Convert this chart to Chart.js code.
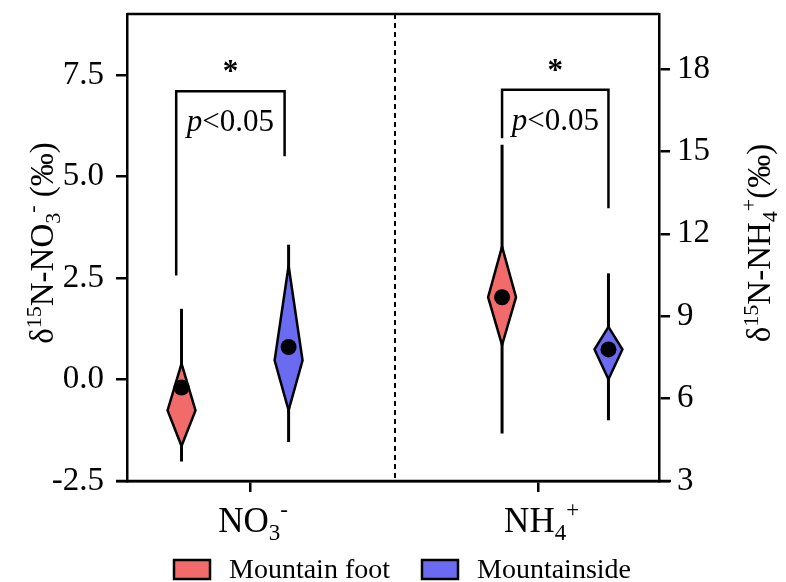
<!DOCTYPE html>
<html>
<head>
<meta charset="utf-8">
<script src="https://cdn.jsdelivr.net/npm/chart.js@4.4.1/dist/chart.umd.min.js"></script>
<style>
  html, body { margin: 0; padding: 0; background: #fff; }
  #wrap { width: 786px; height: 582px; }
</style>
</head>
<body>
<div id="wrap"><canvas id="chart" width="786" height="582"></canvas></div>
<script>
// values -- NO3- uses the left axis, NH4+ the right one
const categories = ['NO3-', 'NH4+'];
const groups = ['Mountain foot', 'Mountainside'];
const groupColors = ['#f26b6b', '#6b6bf2'];

// positions on a 0..8 x scale
const categoryX = [1.85, 6.19];
const groupX = [[0.82, 2.43], [5.64, 7.24]];
const dividerX = 4.03;

const whiskerLow  = [[-2.02, -1.54], [4.73, 5.21]];
const whiskerHigh = [[1.74, 3.32], [15.24, 10.56]];
const diamondTop  = [[0.39, 2.80], [11.53, 8.61]];
const diamondMid  = [[-0.76, 0.47], [9.69, 7.79]];
const diamondLow  = [[-1.64, -0.76], [7.95, 6.70]];
const means       = [[-0.20, 0.80], [9.69, 7.79]];

const bracketX    = [[0.74, 2.37], [5.64, 7.24]];
const bracketTop  = [7.10, 17.24];
const bracketEnds = [[2.56, 5.50], [15.48, 12.93]];

const leftTicks  = [-2.5, 0, 2.5, 5, 7.5];
const rightTicks = [3, 6, 9, 12, 15, 18];

const axisIds = ['y', 'y2'];
const DIAMOND_HALF = 0.21; // x units
const FONT = '"Liberation Serif", "Times New Roman", serif';

const datasets = [];
categories.forEach((cat, c) => {
    groups.forEach((g, k) => {
        const x = groupX[c][k];
        // whisker
        datasets.push({
            yAxisID: axisIds[c], order: 3,
            data: [{x: x, y: whiskerLow[c][k]}, {x: x, y: whiskerHigh[c][k]}],
            borderColor: '#000', borderWidth: 3, pointRadius: 0, fill: false
        });
        // diamond
        datasets.push({
            yAxisID: axisIds[c], order: 2,
            data: [
                {x: x, y: diamondTop[c][k]},
                {x: x + DIAMOND_HALF, y: diamondMid[c][k]},
                {x: x, y: diamondLow[c][k]},
                {x: x - DIAMOND_HALF, y: diamondMid[c][k]},
                {x: x, y: diamondTop[c][k]}
            ],
            borderColor: '#000', borderWidth: 2.5, backgroundColor: groupColors[k],
            fill: 'shape', pointRadius: 0, borderJoinStyle: 'miter'
        });
        // mean
        datasets.push({
            yAxisID: axisIds[c], order: 1,
            data: [{x: x, y: means[c][k]}],
            showLine: false, pointRadius: 8, pointBackgroundColor: '#000',
            pointBorderWidth: 0
        });
    });
    // significance bracket
    datasets.push({
        yAxisID: axisIds[c], order: 1,
        data: [
            {x: bracketX[c][0], y: bracketEnds[c][0]},
            {x: bracketX[c][0], y: bracketTop[c]},
            {x: bracketX[c][1], y: bracketTop[c]},
            {x: bracketX[c][1], y: bracketEnds[c][1]}
        ],
        borderColor: '#000', borderWidth: 2.5, pointRadius: 0, fill: false
    });
});

function fontOf(p) {
    return (p.italic ? 'italic ' : '') + (p.bold ? 'bold ' : '') + p.size + 'px ' + FONT;
}

// draws a run of text pieces (sub/superscripts) on one baseline
function drawRich(ctx, parts, x, y, align) {
    let total = 0;
    parts.forEach(p => { ctx.font = fontOf(p); p.w = ctx.measureText(p.t).width; total += p.w; });
    let cx = align === 'center' ? x - total / 2 : x;
    ctx.textAlign = 'left';
    ctx.textBaseline = 'alphabetic';
    parts.forEach(p => {
        ctx.font = fontOf(p);
        ctx.fillText(p.t, cx, y + (p.dy || 0));
        cx += p.w;
    });
}

const decorations = {
    id: 'decorations',
    beforeDatasetsDraw(chart) {
        const {ctx, chartArea: a, scales} = chart;
        const px = scales.x.getPixelForValue(dividerX);
        ctx.save();
        ctx.strokeStyle = '#000';
        ctx.lineWidth = 2;
        ctx.setLineDash([5, 4]);
        ctx.beginPath();
        ctx.moveTo(px, a.top);
        ctx.lineTo(px, a.bottom);
        ctx.stroke();
        ctx.restore();
    },
    afterDraw(chart) {
        const {ctx, chartArea: a, scales} = chart;
        ctx.save();
        ctx.strokeStyle = '#000';
        ctx.lineWidth = 2.5;
        ctx.beginPath();
        ctx.moveTo(a.left, a.top);
        ctx.lineTo(a.right, a.top);
        ctx.moveTo(a.left - 11, a.bottom);
        ctx.lineTo(a.right + 12, a.bottom);
        ctx.stroke();

        ctx.fillStyle = '#000';
        // star and p value over each bracket
        categories.forEach((cat, c) => {
            const topPx = scales[axisIds[c]].getPixelForValue(bracketTop[c]);
            const mid = scales.x.getPixelForValue((bracketX[c][0] + bracketX[c][1]) / 2);
            drawRich(ctx, [{t: '*', size: 31, bold: true}], mid, topPx - 10, 'center');
            drawRich(ctx, [{t: 'p', size: 31, italic: true}, {t: '<0.05', size: 31}], mid, topPx + 40, 'center');
        });

        // category labels
        const xLabels = [
            [{t: 'NO', size: 35}, {t: '3', size: 23, dy: 8}, {t: '-', size: 23, dy: -15}],
            [{t: 'NH', size: 35}, {t: '4', size: 23, dy: 8}, {t: '+', size: 23, dy: -15}]
        ];
        xLabels.forEach((parts, c) => {
            drawRich(ctx, parts, scales.x.getPixelForValue(categoryX[c]) + 3, a.bottom + 51, 'center');
        });

        // axis titles
        const leftTitle = [
            {t: 'δ', size: 33}, {t: '15', size: 22, dy: -12}, {t: 'N-NO', size: 33},
            {t: '3', size: 22, dy: 7}, {t: '-', size: 22, dy: -14}, {t: ' (‰)', size: 33}
        ];
        const rightTitle = [
            {t: 'δ', size: 33}, {t: '15', size: 22, dy: -12}, {t: 'N-NH', size: 33},
            {t: '4', size: 22, dy: 7}, {t: '+', size: 22, dy: -14}, {t: '(‰)', size: 33}
        ];
        ctx.save();
        ctx.translate(53, 243);
        ctx.rotate(-Math.PI / 2);
        drawRich(ctx, leftTitle, 0, 0, 'center');
        ctx.restore();
        ctx.save();
        ctx.translate(770, 243);
        ctx.rotate(-Math.PI / 2);
        drawRich(ctx, rightTitle, 0, 0, 'center');
        ctx.restore();

        // legend
        const legendX = [174, 422];
        groups.forEach((g, k) => {
            ctx.fillStyle = groupColors[k];
            ctx.fillRect(legendX[k], 560, 36, 19);
            ctx.lineWidth = 2.5;
            ctx.strokeRect(legendX[k], 560, 36, 19);
            ctx.fillStyle = '#000';
            drawRich(ctx, [{t: g, size: 28}], legendX[k] + 55, 578, 'left');
        });
        ctx.restore();
    }
};

const tickGrid = {
    display: true, drawOnChartArea: false, drawTicks: true,
    tickLength: 11, color: '#000', lineWidth: 2.5
};

new Chart(document.getElementById('chart'), {
    type: 'line',
    data: { datasets: datasets },
    options: {
        responsive: false,
        animation: false,
        devicePixelRatio: 1,
        layout: { padding: { top: 14, left: 0, right: 0, bottom: 0 } },
        plugins: {
            legend: { display: false },
            tooltip: { enabled: false }
        },
        scales: {
            x: {
                type: 'linear', min: 0, max: 8,
                grid: tickGrid,
                border: { display: true, color: '#000', width: 2.5 },
                ticks: { display: false },
                afterBuildTicks: s => { s.ticks = categoryX.map(v => ({value: v})); },
                afterFit: s => { s.height = 101; s.paddingLeft = 0; s.paddingRight = 0; }
            },
            y: {
                type: 'linear', position: 'left', min: -2.5, max: 9,
                grid: tickGrid,
                border: { display: true, color: '#000', width: 2.5 },
                ticks: {
                    color: '#000', padding: 12,
                    font: { family: FONT, size: 33 },
                    callback: v => v.toFixed(1)
                },
                afterBuildTicks: s => { s.ticks = leftTicks.map(v => ({value: v})); },
                afterFit: s => { s.width = 127; s.paddingTop = 0; s.paddingBottom = 0; }
            },
            y2: {
                type: 'linear', position: 'right', min: 3, max: 20,
                grid: tickGrid,
                border: { display: true, color: '#000', width: 2.5 },
                ticks: {
                    color: '#000', padding: 7,
                    font: { family: FONT, size: 33 },
                    callback: v => String(v)
                },
                afterBuildTicks: s => { s.ticks = rightTicks.map(v => ({value: v})); },
                afterFit: s => { s.width = 127; s.paddingTop = 0; s.paddingBottom = 0; }
            }
        }
    },
    plugins: [decorations]
});
</script>
</body>
</html>
